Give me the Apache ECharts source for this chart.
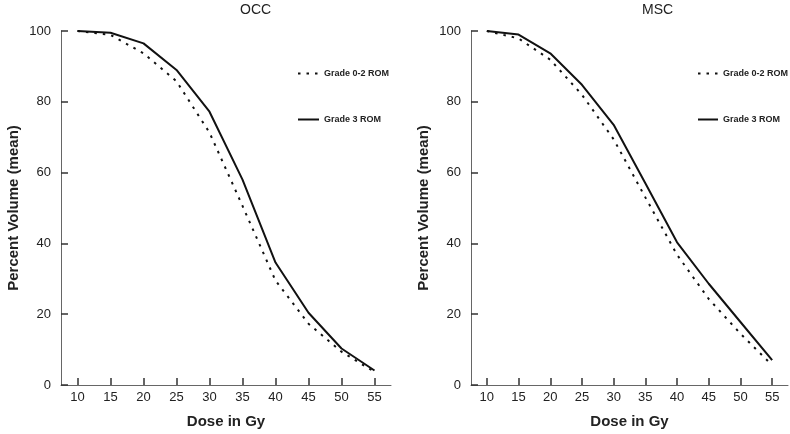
<!DOCTYPE html>
<html>
<head>
    <meta charset="utf-8">
    <script src="https://cdn.jsdelivr.net/npm/echarts@6/dist/echarts.min.js"></script>
    <style>
        html, body { margin: 0; padding: 0; background: #fff; }
    </style>
</head>
<body>
    <div id="main" style="width: 790px;height: 434px;"></div>
    <script>
        // dose (Gy) on x, percent volume on y
        var doses = ['10', '15', '20', '25', '30', '35', '40', '45', '50', '55'];
        var yTicks = [0, 20, 40, 60, 80, 100];
        // OCC panel
        var occLow = [100, 98.9, 93.7, 85.8, 71.3, 50.6, 29.5, 17.3, 9.4, 3.7];
        var occHigh = [100, 99.5, 96.5, 89, 77.2, 58, 34.6, 20.4, 10.3, 4.1];
        // MSC panel
        var mscLow = [100, 97.9, 91.9, 82, 69.4, 53, 36.8, 24.3, 14.5, 5.6];
        var mscHigh = [100, 99, 93.7, 84.8, 73.5, 57, 40.3, 28.6, 17.8, 7];

        var font = "'Liberation Sans', Arial, sans-serif";
        var ink = '#111';

        function xAxisFor(idx) {
            return {
                type: 'category',
                gridIndex: idx,
                data: doses,
                boundaryGap: true,
                name: 'Dose in Gy',
                nameLocation: 'middle',
                nameGap: 29,
                nameTextStyle: { fontFamily: font, fontSize: 15, fontWeight: 'bold', color: '#222' },
                axisLine: { show: true, lineStyle: { color: '#666', width: 1 } },
                axisTick: { show: true, inside: true, alignWithLabel: true, length: 7, lineStyle: { color: '#333', width: 1.5 } },
                axisLabel: { margin: 6, fontFamily: font, fontSize: 13, color: '#222' },
                splitLine: { show: false }
            };
        }

        function yAxisFor(idx) {
            return {
                type: 'value',
                gridIndex: idx,
                min: yTicks[0],
                max: yTicks[yTicks.length - 1],
                interval: yTicks[1] - yTicks[0],
                name: 'Percent Volume (mean)',
                nameLocation: 'middle',
                nameGap: 40,
                nameTextStyle: { fontFamily: font, fontSize: 15, fontWeight: 'bold', color: '#222' },
                axisLine: { show: true, lineStyle: { color: '#666', width: 1 } },
                axisTick: { show: true, inside: true, length: 7, lineStyle: { color: '#333', width: 1.5 } },
                axisLabel: { margin: 10, fontFamily: font, fontSize: 13, color: '#222' },
                splitLine: { show: false }
            };
        }

        function lineSeries(name, idx, data, dotted) {
            return {
                name: name,
                type: 'line',
                xAxisIndex: idx,
                yAxisIndex: idx,
                data: data,
                symbol: 'none',
                showSymbol: false,
                animation: false,
                lineStyle: {
                    color: ink,
                    width: 2,
                    type: dotted ? [2.5, 6] : 'solid'
                },
                itemStyle: { color: ink }
            };
        }

        function legendAt(left, w) {
            return {
                orient: 'vertical',
                left: left,
                top: 69,
                padding: 0,
                itemGap: 37,
                itemWidth: w,
                itemHeight: 10,
                data: ['Grade 0-2 ROM', 'Grade 3 ROM'],
                selectedMode: false,
                // hide the symbol the line legend icon adds, keep only the line
                itemStyle: { color: 'transparent', borderWidth: 0, opacity: 0 },
                textStyle: { fontFamily: font, fontSize: 9, fontWeight: 'bold', color: '#222' }
            };
        }

        var myChart = echarts.init(document.getElementById('main'));
        var option = {
            backgroundColor: '#fff',
            animation: false,
            title: [
                { text: 'OCC', left: 240, top: 3, padding: 0,
                  textStyle: { fontFamily: font, fontSize: 14, fontWeight: 'normal', color: '#222' } },
                { text: 'MSC', left: 642, top: 3, padding: 0,
                  textStyle: { fontFamily: font, fontSize: 14, fontWeight: 'normal', color: '#222' } }
            ],
            legend: [legendAt(297, 21), legendAt(697, 20)],
            grid: [
                { left: 61, top: 31, width: 330, height: 356 },
                { left: 471, top: 31, width: 317, height: 356 }
            ],
            xAxis: [xAxisFor(0), xAxisFor(1)],
            yAxis: [yAxisFor(0), yAxisFor(1)],
            series: [
                lineSeries('Grade 0-2 ROM', 0, occLow, true),
                lineSeries('Grade 3 ROM', 0, occHigh, false),
                lineSeries('Grade 0-2 ROM', 1, mscLow, true),
                lineSeries('Grade 3 ROM', 1, mscHigh, false)
            ]
        };
        myChart.setOption(option);
    </script>
</body>
</html>
